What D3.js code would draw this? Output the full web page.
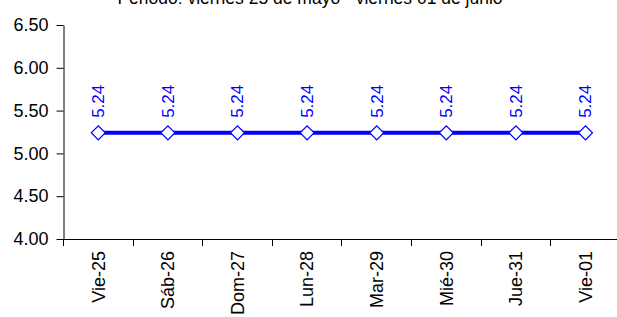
<!DOCTYPE html>
<html>
<head>
<meta charset="utf-8">
<script src="https://cdn.jsdelivr.net/npm/d3@7"></script>
<style>
	html, body { margin: 0; padding: 0; background: #fff; }
	svg text { font-family: "Liberation Sans", Arial, sans-serif; }
</style>
</head>
<body>
<svg id="chart" width="617" height="317"></svg>
<script>
const titleText = "Periodo: viernes 25 de mayo - viernes 01 de junio";
const categories = ["Vie-25", "Sáb-26", "Dom-27", "Lun-28", "Mar-29", "Mié-30", "Jue-31", "Vie-01"];
const values = [5.24, 5.24, 5.24, 5.24, 5.24, 5.24, 5.24, 5.24];
const yTicks = [4.0, 4.5, 5.0, 5.5, 6.0, 6.5];

const svg = d3.select("#chart");
const plotLeft = 63.5, plotTop = 25, plotBottom = 239;
const step = 69.6;

const x = d3.scaleBand()
	.domain(categories)
	.range([plotLeft, plotLeft + step * categories.length])
	.padding(0);

const y = d3.scaleLinear()
	.domain([4.0, 6.5])
	.range([plotBottom, plotTop]);

// titulo (cortado arriba, como en el original)
svg.append("text")
	.attr("x", 310)
	.attr("y", 4)
	.attr("text-anchor", "middle")
	.attr("font-size", "17.5px")
	.attr("fill", "#000")
	.text(titleText);

// eje Y
const gy = svg.append("g")
	.attr("transform", `translate(${plotLeft},0)`)
	.call(d3.axisLeft(y).tickValues(yTicks).tickFormat(d3.format(".2f")).tickSize(7).tickSizeOuter(0));
gy.select(".domain").attr("stroke", "#000");
gy.selectAll(".tick line").attr("stroke", "#000");
gy.selectAll(".tick text")
	.attr("x", -15)
	.attr("font-size", "18px")
	.attr("fill", "#000");

// eje X
const gx = svg.append("g")
	.attr("transform", `translate(0,${plotBottom})`);
gx.append("line")
	.attr("x1", plotLeft)
	.attr("x2", 617)
	.attr("y1", 0.5)
	.attr("y2", 0.5)
	.attr("stroke", "#000");
gx.selectAll(".xtick")
	.data(categories)
	.join("line")
	.attr("class", "xtick")
	.attr("x1", d => Math.floor(x(d)) + 0.5)
	.attr("x2", d => Math.floor(x(d)) + 0.5)
	.attr("y1", 0)
	.attr("y2", 7)
	.attr("stroke", "#000");
gx.selectAll(".xlabel")
	.data(categories)
	.join("text")
	.attr("class", "xlabel")
	.attr("transform", d => `translate(${x(d) + x.bandwidth() / 2},12) rotate(-90)`)
	.attr("dy", "0.35em")
	.attr("text-anchor", "end")
	.attr("font-size", "18px")
	.attr("fill", "#000")
	.text(d => d);

// linea
const line = d3.line()
	.x((d, i) => x(categories[i]) + x.bandwidth() / 2)
	.y(d => y(d));

svg.append("path")
	.datum(values)
	.attr("d", line)
	.attr("fill", "none")
	.attr("stroke", "#0000ff")
	.attr("stroke-width", 4);

// marcadores
svg.selectAll(".marker")
	.data(values)
	.join("path")
	.attr("class", "marker")
	.attr("d", d3.symbol(d3.symbolSquare, 98))
	.attr("transform", (d, i) => `translate(${x(categories[i]) + x.bandwidth() / 2},${y(d)}) rotate(45)`)
	.attr("fill", "#fff")
	.attr("stroke", "#0000ff")
	.attr("stroke-width", 1.2);

// etiquetas de datos
svg.selectAll(".dlabel")
	.data(values)
	.join("text")
	.attr("class", "dlabel")
	.attr("transform", (d, i) => `translate(${x(categories[i]) + x.bandwidth() / 2},${y(d) - 15}) rotate(-90)`)
	.attr("dy", "0.35em")
	.attr("text-anchor", "start")
	.attr("font-size", "17px")
	.attr("fill", "#0000ff")
	.text(d => d3.format(".2f")(d));
</script>
</body>
</html>
